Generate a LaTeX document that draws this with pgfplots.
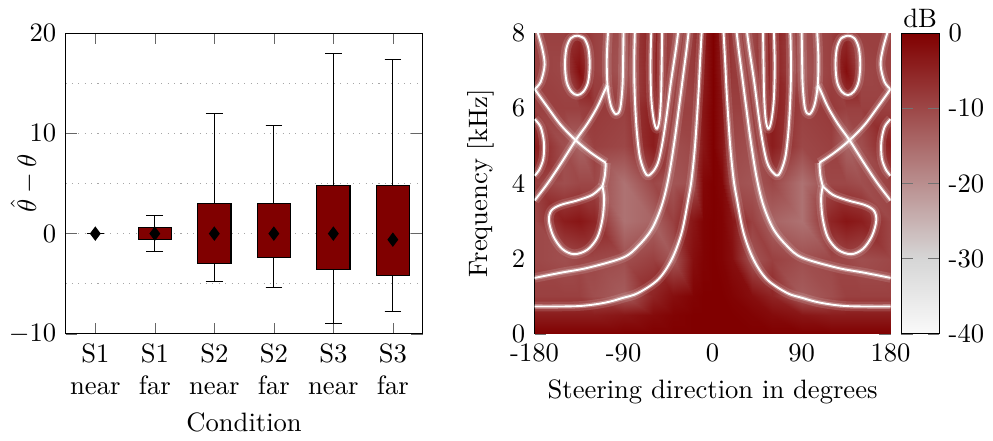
\documentclass[border=0pt]{standalone}
\usepackage{pgfplots}
\usepackage{pgfplotstable}
\usepgfplotslibrary{statistics}
\pgfplotsset{compat=1.18}
\pgfplotsset{colorbar shift/.style={}}
\definecolor{boxred}{RGB}{128,0,0}

% null curves of the beampattern, left half (mirrored for the right half)
\pgfplotstableread[row sep=\\]{x y \\ -180 0.73 \\ -136.1 0.74 \\ -109 0.83 \\ -90.5 0.96 \\ -75.2 1.09 \\ -55 1.45 \\ -41.4 1.98 \\ -31.3 2.69 \\ -24.6 3.58 \\ -21.2 4.12 \\ -17.8 5.0 \\ -14.4 6.34 \\ -12.7 7.23 \\ -11.0 8.05 \\}\cOne
\pgfplotstableread[row sep=\\]{x y \\ -180 1.49 \\ -153 1.63 \\ -125.9 1.76 \\ -90.5 2.03 \\ -75.2 2.34 \\ -61.7 2.78 \\ -51.6 3.40 \\ -44.8 4.12 \\ -38.7 5.10 \\ -33.7 6.08 \\ -29.3 6.97 \\ -26.2 7.59 \\ -24.2 8.05 \\}\cTwo
\pgfplotstableread[row sep=\\]{x y \\ -78.6 8.05 \\ -79.3 7.15 \\ -78.6 6.26 \\ -76.6 5.37 \\ -73.2 4.66 \\ -66.8 4.23 \\ -60.7 4.30 \\ -55.0 4.57 \\ -50.6 5.10 \\ -46.5 5.81 \\ -42.1 6.70 \\ -37.0 7.59 \\ -34.7 8.05 \\}\loopC
\pgfplotstableread[row sep=\\]{x y \\ -62 8.05 \\ -62.8 7.15 \\ -62 6.26 \\ -59.5 5.68 \\ -56.5 5.45 \\ -53.8 5.68 \\ -52.2 6.26 \\ -51.5 7.15 \\ -51 8.05 \\}\loopD
\pgfplotstableread[row sep=\\]{x y \\ -105.7 8.05 \\ -107.0 7.32 \\ -106.3 6.61 \\ -103.0 6.08 \\ -97.9 5.84 \\ -93.5 5.99 \\ -91.1 6.61 \\ -90.5 7.32 \\ -90.1 8.05 \\}\loopB
\pgfplotstableread[row sep=\\]{x y \\ -136.8 7.93 \\ -130.0 7.86 \\ -125.6 7.59 \\ -124.3 7.15 \\ -125.9 6.70 \\ -130.7 6.44 \\ -136.8 6.35 \\ -142.8 6.44 \\ -147.6 6.70 \\ -149.3 7.15 \\ -147.9 7.59 \\ -143.5 7.86 \\ -136.8 7.93 \\ -130.0 7.86 \\}\ellE
\pgfplotstableread[row sep=\\]{x y \\ -177.3 8.05 \\ -172.3 7.59 \\ -169.9 7.15 \\ -173.9 6.70 \\ -180 6.51 \\}\topT
\pgfplotstableread[row sep=\\]{x y \\ -180 6.51 \\ -167.2 6.04 \\ -153.7 5.56 \\ -138.5 5.15 \\ -123.2 4.82 \\ -108.0 4.55 \\}\crossA
\pgfplotstableread[row sep=\\]{x y \\ -180 3.55 \\ -167.2 3.99 \\ -153.7 4.52 \\ -138.5 5.15 \\ -126.6 5.59 \\ -116.5 6.04 \\ -109.7 6.44 \\ -106.3 6.61 \\}\crossB
\pgfplotstableread[row sep=\\]{x y \\ -180 5.71 \\ -173.9 5.50 \\ -170.6 5.10 \\ -171.2 4.66 \\ -175.6 4.35 \\ -180 4.21 \\}\halfG
\pgfplotstableread[row sep=\\]{x y \\ -111.4 3.93 \\ -109.7 3.59 \\ -111.4 3.06 \\ -116.5 2.57 \\ -126.6 2.24 \\ -140.1 2.12 \\ -152.0 2.26 \\ -161.1 2.60 \\ -165.5 3.01 \\ -163.1 3.28 \\ -153.7 3.43 \\ -136.8 3.55 \\ -121.5 3.70 \\ -111.4 3.93 \\}\loopF
\pgfplotstableread[row sep=\\]{x y \\ -111.4 3.93 \\ -109.0 4.21 \\ -108.0 4.55 \\}\linkN

\pgfplotsset{
  nullglow/.style={white, line width=3.6pt, opacity=0.12, smooth, tension=0.55, no markers, line join=round},
  nullmid/.style={white, line width=1.7pt, opacity=0.3, smooth, tension=0.55, no markers, line join=round},
  nullcore/.style={white, line width=0.7pt, smooth, tension=0.55, no markers, line join=round},
}
\newcommand{\nullcurve}[1]{%
  \addplot[nullglow] table[x=x,y=y]{#1};
  \addplot[nullglow] table[x expr=-\thisrow{x},y=y]{#1};
  \addplot[nullmid] table[x=x,y=y]{#1};
  \addplot[nullmid] table[x expr=-\thisrow{x},y=y]{#1};
  \addplot[nullcore] table[x=x,y=y]{#1};
  \addplot[nullcore] table[x expr=-\thisrow{x},y=y]{#1};
}

\begin{document}
\begin{tikzpicture}
% ---- left: box plots
\begin{axis}[
  scale only axis, width=134.2pt, height=113.1pt,
  xmin=0.5, xmax=6.5, ymin=-10, ymax=20,
  xtick={1,2,3,4,5,6},
  xticklabels={S1\\near,S1\\far,S2\\near,S2\\far,S3\\near,S3\\far},
  xticklabel style={align=center},
  ytick={-10,0,10,20}, minor ytick={-5,5,15},
  ymajorgrids, yminorgrids,
  major grid style={dotted, gray!70},
  minor grid style={dotted, gray!70},
  minor tick length=0pt,
  tick style={black!60},
  xlabel={Condition}, ylabel={$\hat{\theta}-\theta$},
  ylabel style={at={(axis description cs:-0.115,0.5)}, anchor=center},
  boxplot/draw direction=y,
  boxplot/box extend=0.56, boxplot/whisker extend=0.28,
  boxplot/draw/median/.code={},
]
\addplot[draw=black, fill=boxred, boxplot/box extend=0, boxplot prepared={draw position=1, lower whisker=0, lower quartile=0, median=0, upper quartile=0, upper whisker=0}] coordinates {};
\addplot[draw=black, fill=boxred, boxplot prepared={draw position=2, lower whisker=-1.8, lower quartile=-0.6, median=0, upper quartile=0.6, upper whisker=1.8}] coordinates {};
\addplot[draw=black, fill=boxred, boxplot prepared={draw position=3, lower whisker=-4.8, lower quartile=-3.0, median=0, upper quartile=3.0, upper whisker=12.0}] coordinates {};
\addplot[draw=black, fill=boxred, boxplot prepared={draw position=4, lower whisker=-5.4, lower quartile=-2.4, median=0, upper quartile=3.0, upper whisker=10.8}] coordinates {};
\addplot[draw=black, fill=boxred, boxplot prepared={draw position=5, lower whisker=-9.0, lower quartile=-3.6, median=0, upper quartile=4.8, upper whisker=18.0}] coordinates {};
\addplot[draw=black, fill=boxred, boxplot prepared={draw position=6, lower whisker=-7.8, lower quartile=-4.2, median=-0.6, upper quartile=4.8, upper whisker=17.4}] coordinates {};
% means
\addplot[only marks, mark=diamond*, mark size=2.4pt, black] coordinates {(1,0) (2,0) (3,0) (4,0) (5,0) (6,-0.6)};
\end{axis}

% ---- right: beampattern
\begin{axis}[
  at={(176.3pt,0pt)},
  scale only axis, width=133.8pt, height=113.1pt,
  xmin=-180, xmax=180, ymin=0, ymax=8,
  xtick={-180,-90,0,90,180}, xticklabels={-180,-90,0,90,180},
  ytick={0,2,4,6,8}, yticklabels={0,2,4,6,8},
  tick style={black!55},
  xlabel={Steering direction in degrees}, ylabel={Frequency [kHz]},
  colormap={beam}{rgb255(0cm)=(250,250,250) rgb255(1cm)=(214,214,214) rgb255(4cm)=(128,0,0)},
  point meta min=-40, point meta max=0,
  colorbar,
  colorbar style={
    at={(parent axis.north east)}, anchor=north west, xshift=4pt,
    width=14.3pt,
    title={dB},
    title style={yshift=-7.5pt},
    ytick={-40,-30,-20,-10,0},
    yticklabel={\pgfmathtruncatemacro\cbl{\tick}\cbl},
    ytick pos=both, yticklabel pos=right,
    tick align=inside,
    tick style={black!55},
  },
]
\addplot[surf, shader=interp, mesh/cols=19, point meta=explicit] table[row sep=\\, meta=z] {
x y z \\
-180 0 0 \\ -150 0 0 \\ -135 0 0 \\ -120 0 0 \\ -90 0 0 \\ -60 0 0 \\ -40 0 0 \\ -20 0 0 \\ -10 0 0 \\ 0 0 0 \\ 10 0 0 \\ 20 0 0 \\ 40 0 0 \\ 60 0 0 \\ 90 0 0 \\ 120 0 0 \\ 135 0 0 \\ 150 0 0 \\ 180 0 0 \\
-180 0.5 -4 \\ -150 0.5 -4 \\ -135 0.5 -4 \\ -120 0.5 -4 \\ -90 0.5 -3 \\ -60 0.5 -1.5 \\ -40 0.5 -0.5 \\ -20 0.5 0 \\ -10 0.5 0 \\ 0 0.5 0 \\ 10 0.5 0 \\ 20 0.5 0 \\ 40 0.5 -0.5 \\ 60 0.5 -1.5 \\ 90 0.5 -3 \\ 120 0.5 -4 \\ 135 0.5 -4 \\ 150 0.5 -4 \\ 180 0.5 -4 \\
-180 1 -9 \\ -150 1 -9 \\ -135 1 -9 \\ -120 1 -11 \\ -90 1 -13 \\ -60 1 -5 \\ -40 1 -2 \\ -20 1 -0.5 \\ -10 1 0 \\ 0 1 0 \\ 10 1 0 \\ 20 1 -0.5 \\ 40 1 -2 \\ 60 1 -5 \\ 90 1 -13 \\ 120 1 -11 \\ 135 1 -9 \\ 150 1 -9 \\ 180 1 -9 \\
-180 2 -10 \\ -150 2 -11 \\ -135 2 -10 \\ -120 2 -10 \\ -90 2 -11 \\ -60 2 -9 \\ -40 2 -12 \\ -20 2 -2 \\ -10 2 -0.5 \\ 0 2 0 \\ 10 2 -0.5 \\ 20 2 -2 \\ 40 2 -12 \\ 60 2 -9 \\ 90 2 -11 \\ 120 2 -10 \\ 135 2 -10 \\ 150 2 -11 \\ 180 2 -10 \\
-180 3 -10 \\ -150 3 -4 \\ -135 3 -3 \\ -120 3 -5 \\ -90 3 -16 \\ -60 3 -14 \\ -40 3 -9 \\ -20 3 -3 \\ -10 3 -0.5 \\ 0 3 0 \\ 10 3 -0.5 \\ 20 3 -3 \\ 40 3 -9 \\ 60 3 -14 \\ 90 3 -16 \\ 120 3 -5 \\ 135 3 -3 \\ 150 3 -4 \\ 180 3 -10 \\
-180 4 -9 \\ -150 4 -11 \\ -135 4 -10 \\ -120 4 -10 \\ -90 4 -16 \\ -60 4 -10 \\ -40 4 -12 \\ -20 4 -11 \\ -10 4 -1 \\ 0 4 0 \\ 10 4 -1 \\ 20 4 -11 \\ 40 4 -12 \\ 60 4 -10 \\ 90 4 -16 \\ 120 4 -10 \\ 135 4 -10 \\ 150 4 -11 \\ 180 4 -9 \\
-180 5 -4 \\ -150 5 -11 \\ -135 5 -14 \\ -120 5 -9 \\ -90 5 -10 \\ -60 5 -4 \\ -40 5 -11 \\ -20 5 -10 \\ -10 5 -3 \\ 0 5 0 \\ 10 5 -3 \\ 20 5 -10 \\ 40 5 -11 \\ 60 5 -4 \\ 90 5 -10 \\ 120 5 -9 \\ 135 5 -14 \\ 150 5 -11 \\ 180 5 -4 \\
-180 6 -9 \\ -150 6 -9 \\ -135 6 -9 \\ -120 6 -8 \\ -90 6 -9 \\ -60 6 -4 \\ -40 6 -9 \\ -20 6 -9 \\ -10 6 -3 \\ 0 6 0 \\ 10 6 -3 \\ 20 6 -9 \\ 40 6 -9 \\ 60 6 -4 \\ 90 6 -9 \\ 120 6 -8 \\ 135 6 -9 \\ 150 6 -9 \\ 180 6 -9 \\
-180 7 -9 \\ -150 7 -10 \\ -135 7 -2 \\ -120 7 -9 \\ -90 7 -12 \\ -60 7 -4 \\ -40 7 -10 \\ -20 7 -8 \\ -10 7 -4 \\ 0 7 0 \\ 10 7 -4 \\ 20 7 -8 \\ 40 7 -10 \\ 60 7 -4 \\ 90 7 -12 \\ 120 7 -9 \\ 135 7 -2 \\ 150 7 -10 \\ 180 7 -9 \\
-180 8 -9 \\ -150 8 -9 \\ -135 8 -6 \\ -120 8 -9 \\ -90 8 -11 \\ -60 8 -4 \\ -40 8 -10 \\ -20 8 -8 \\ -10 8 -4 \\ 0 8 0 \\ 10 8 -4 \\ 20 8 -8 \\ 40 8 -10 \\ 60 8 -4 \\ 90 8 -11 \\ 120 8 -9 \\ 135 8 -6 \\ 150 8 -9 \\ 180 8 -9 \\
};
\nullcurve{\cOne}
\nullcurve{\cTwo}
\nullcurve{\loopC}
\nullcurve{\loopD}
\nullcurve{\loopB}
\nullcurve{\ellE}
\nullcurve{\topT}
\nullcurve{\crossA}
\nullcurve{\crossB}
\nullcurve{\halfG}
\nullcurve{\loopF}
\nullcurve{\linkN}
\end{axis}
\end{tikzpicture}
\end{document}
